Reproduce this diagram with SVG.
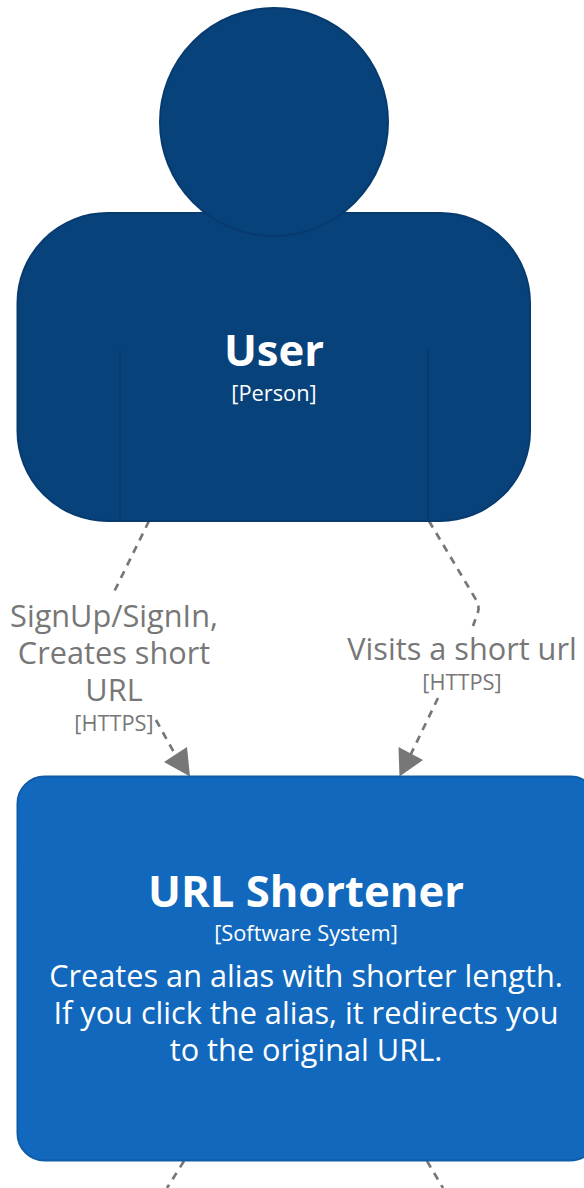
<svg xmlns="http://www.w3.org/2000/svg" width="584" height="1188" viewBox="0 0 584 1188">
<defs>
<style>
text{font-family:"Open Sans","Noto Sans",sans-serif;text-anchor:middle}
.w{fill:#fff}
.g{fill:#777}
.b{font-weight:700;font-size:43.6px}
.m{font-size:30.7px}
.s{font-size:21.8px}
.c{fill:none;stroke:#777;stroke-width:2.7;stroke-dasharray:7.5 6.5}
.a{fill:#777;stroke:none}
.p{fill:#08427b;stroke:#073b6f;stroke-width:2}
.l{fill:none;stroke:#073b6f;stroke-width:2}
</style>
</defs>
<rect width="584" height="1188" fill="#fff"/>
<g id="connectors">
<path class="c" d="M149 521L113 594"/>
<path class="c" d="M156 720L176 756"/>
<path class="a" d="M190 776.500L164 762L187 747Z"/>
<path class="c" d="M429 521L475 598Q480 606 478 612L473 626"/>
<path class="c" d="M438 698L410 756"/>
<path class="a" d="M399.500 776.500L398.500 747L423 760Z"/>
<path class="c" d="M184 1161L167 1188"/>
<path class="c" d="M427 1161L443 1188"/>
</g>
<g id="user">
<rect class="p" x="17.500" y="213" width="512.500" height="308" rx="90" ry="90"/>
<circle class="p" cx="274" cy="122" r="114"/>
<path class="l" d="M120 350V521M428 350V521"/>
<text class="w b" x="274" y="366">User</text>
<text class="w s" x="274" y="401">[Person]</text>
</g>
<g id="url-shortener">
<rect x="17.500" y="776.500" width="580" height="384" rx="27" fill="#1168bd" stroke="#0f5daa" stroke-width="2"/>
<text class="w b" x="306" y="906.500">URL Shortener</text>
<text class="w s" x="306" y="940.500">[Software System]</text>
<text class="w m" x="306" y="986.500">Creates an alias with shorter length.</text>
<text class="w m" x="306" y="1023.500">If you click the alias, it redirects you</text>
<text class="w m" x="306" y="1060.500">to the original URL.</text>
</g>
<g id="labels">
<text class="g m" x="114" y="627">SignUp/SignIn,</text>
<text class="g m" x="114" y="664">Creates short</text>
<text class="g m" x="114" y="701">URL</text>
<text class="g s" x="114" y="731">[HTTPS]</text>
<text class="g m" x="462" y="660">Visits a short url</text>
<text class="g s" x="462" y="690">[HTTPS]</text>
</g>
</svg>
